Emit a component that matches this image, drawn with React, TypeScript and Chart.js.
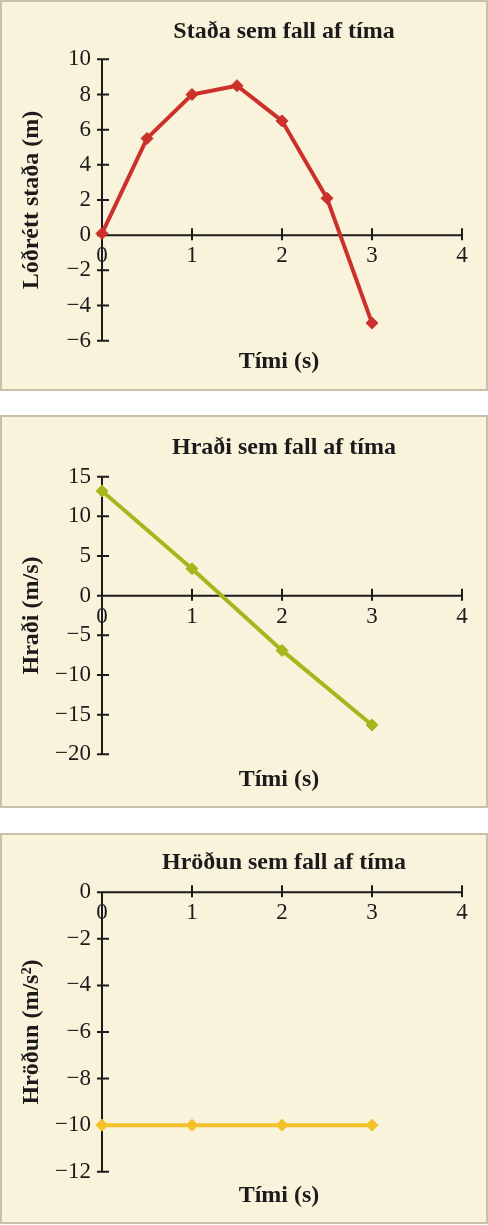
import { useEffect, useRef } from 'react';
import { Chart, registerables } from 'chart.js';

Chart.register(...registerables);

// data
const timePos = [0, 0.5, 1, 1.5, 2, 2.5, 3];
const position = [0.1, 5.5, 8, 8.5, 6.5, 2.1, -5];
const timeVel = [0, 1, 2, 3];
const velocity = [13.2, 3.4, -6.9, -16.3];
const timeAcc = [0, 1, 2, 3];
const acceleration = [-10, -10, -10, -10];

const titles = ['Staða sem fall af tíma', 'Hraði sem fall af tíma', 'Hröðun sem fall af tíma'];
const yTitles = ['Lóðrétt staða (m)', 'Hraði (m/s)', 'Hröðun (m/s²)'];
const xTitle = 'Tími (s)';

const INK = '#1b1b1b';
const FONT = '"Liberation Serif", "DejaVu Serif", serif';
const BG = '#faf3dc';
const BORDER = '#cbbfa6';

const fmt = (v: number) => (v < 0 ? '\u2212' + Math.abs(v) : String(v));

const crossAxes = {
    id: 'crossAxes',
    beforeDatasetsDraw(chart: any) {
        const { ctx, scales } = chart;
        const x = scales.x;
        const y = scales.y;
        const x0 = x.getPixelForValue(0);
        const y0 = y.getPixelForValue(0);
        ctx.save();
        ctx.strokeStyle = INK;
        ctx.lineWidth = 2;
        ctx.beginPath();
        ctx.moveTo(x0, y.top - 1);
        ctx.lineTo(x0, y.bottom + 1);
        ctx.moveTo(x0, y0);
        ctx.lineTo(x.right, y0);
        y.ticks.forEach((t: any) => {
            const p = y.getPixelForValue(t.value);
            ctx.moveTo(x0 - 5, p);
            ctx.lineTo(x0 + 7, p);
        });
        x.ticks.forEach((t: any) => {
            if (t.value === 0) return;
            const p = x.getPixelForValue(t.value);
            ctx.moveTo(p, y0 - 7);
            ctx.lineTo(p, y0 + 5);
        });
        ctx.stroke();
        ctx.restore();
    },
    afterDraw(chart: any, _args: any, opts: any) {
        const { ctx, chartArea } = chart;
        const cx = (chartArea.left + chartArea.right) / 2;
        const cy = (chartArea.top + chartArea.bottom) / 2;
        ctx.save();
        ctx.fillStyle = INK;
        ctx.font = `bold 24px ${FONT}`;
        ctx.textAlign = 'center';
        ctx.textBaseline = 'middle';
        ctx.fillText(opts.title, cx + 2, opts.titleY);
        ctx.fillText(xTitle, cx - 3, opts.xTitleY);
        ctx.translate(30, cy);
        ctx.rotate(-Math.PI / 2);
        ctx.fillText(opts.yTitle, 0, 0);
        ctx.restore();
    },
};

type PanelProps = {
    xs: number[];
    ys: number[];
    color: string;
    yMin: number;
    yMax: number;
    yStep: number;
    title: string;
    yTitle: string;
    top: number;
    height: number;
    padTop: number;
    padBottom: number;
    titleY: number;
    xTitleY: number;
};

function Panel(p: PanelProps) {
    const chartRef = useRef<HTMLCanvasElement | null>(null);

    useEffect(() => {
        const ctx = chartRef.current?.getContext('2d');
        if (!ctx) return;
        const chart = new Chart(ctx, {
            type: 'line',
            data: {
                datasets: [
                    {
                        data: p.xs.map((x, i) => ({ x, y: p.ys[i] })),
                        borderColor: p.color,
                        backgroundColor: p.color,
                        borderWidth: 4,
                        pointStyle: 'rectRot',
                        pointRadius: 6,
                        pointBorderWidth: 1,
                        tension: 0,
                        clip: false as any,
                    },
                ],
            },
            plugins: [crossAxes as any],
            options: {
                responsive: false,
                animation: false,
                layout: { padding: { left: 0, right: 24, top: p.padTop, bottom: p.padBottom } },
                scales: {
                    x: {
                        type: 'linear',
                        position: { y: 0 } as any,
                        min: 0,
                        max: 4,
                        grid: { display: false, drawTicks: false },
                        border: { display: false },
                        ticks: {
                            stepSize: 1,
                            padding: 7,
                            color: INK,
                            font: { family: FONT, size: 23 },
                            callback: (v: any) => fmt(Number(v)),
                        },
                    },
                    y: {
                        type: 'linear',
                        position: 'left',
                        min: p.yMin,
                        max: p.yMax,
                        grid: { display: false, drawTicks: false },
                        border: { display: false },
                        afterFit: (scale: any) => {
                            scale.width = 100;
                        },
                        ticks: {
                            stepSize: p.yStep,
                            padding: 11,
                            color: INK,
                            font: { family: FONT, size: 23 },
                            callback: (v: any) => fmt(Number(v)),
                        },
                    },
                },
                plugins: {
                    legend: { display: false },
                    tooltip: { enabled: false },
                    crossAxes: { title: p.title, yTitle: p.yTitle, titleY: p.titleY, xTitleY: p.xTitleY },
                } as any,
            },
        });
        return () => {
            chart.destroy();
        };
    }, []);

    return (
        <div
            style={{
                position: 'absolute',
                left: 0,
                top: p.top,
                width: 488,
                height: p.height,
                boxSizing: 'border-box',
                border: `2px solid ${BORDER}`,
                background: BG,
            }}
        >
            <canvas ref={chartRef} width={484} height={p.height - 4} style={{ display: 'block' }}></canvas>
        </div>
    );
}

export default function App() {
    return (
        <div style={{ position: 'absolute', left: 0, top: 0, width: 488, height: 1225, background: '#fff' }}>
            <Panel
                xs={timePos}
                ys={position}
                color="#cc302b"
                yMin={-6}
                yMax={10}
                yStep={2}
                title={titles[0]}
                yTitle={yTitles[0]}
                top={0}
                height={391}
                padTop={57.3}
                padBottom={48.3}
                titleY={30}
                xTitleY={360}
            />
            <Panel
                xs={timeVel}
                ys={velocity}
                color="#a5b71d"
                yMin={-20}
                yMax={15}
                yStep={5}
                title={titles[1]}
                yTitle={yTitles[1]}
                top={415}
                height={393}
                padTop={59.7}
                padBottom={51.7}
                titleY={31}
                xTitleY={363}
            />
            <Panel
                xs={timeAcc}
                ys={acceleration}
                color="#f2c22a"
                yMin={-12}
                yMax={0}
                yStep={2}
                title={titles[2]}
                yTitle={yTitles[2]}
                top={833}
                height={391}
                padTop={57.3}
                padBottom={50.3}
                titleY={28}
                xTitleY={361}
            />
        </div>
    );
}
